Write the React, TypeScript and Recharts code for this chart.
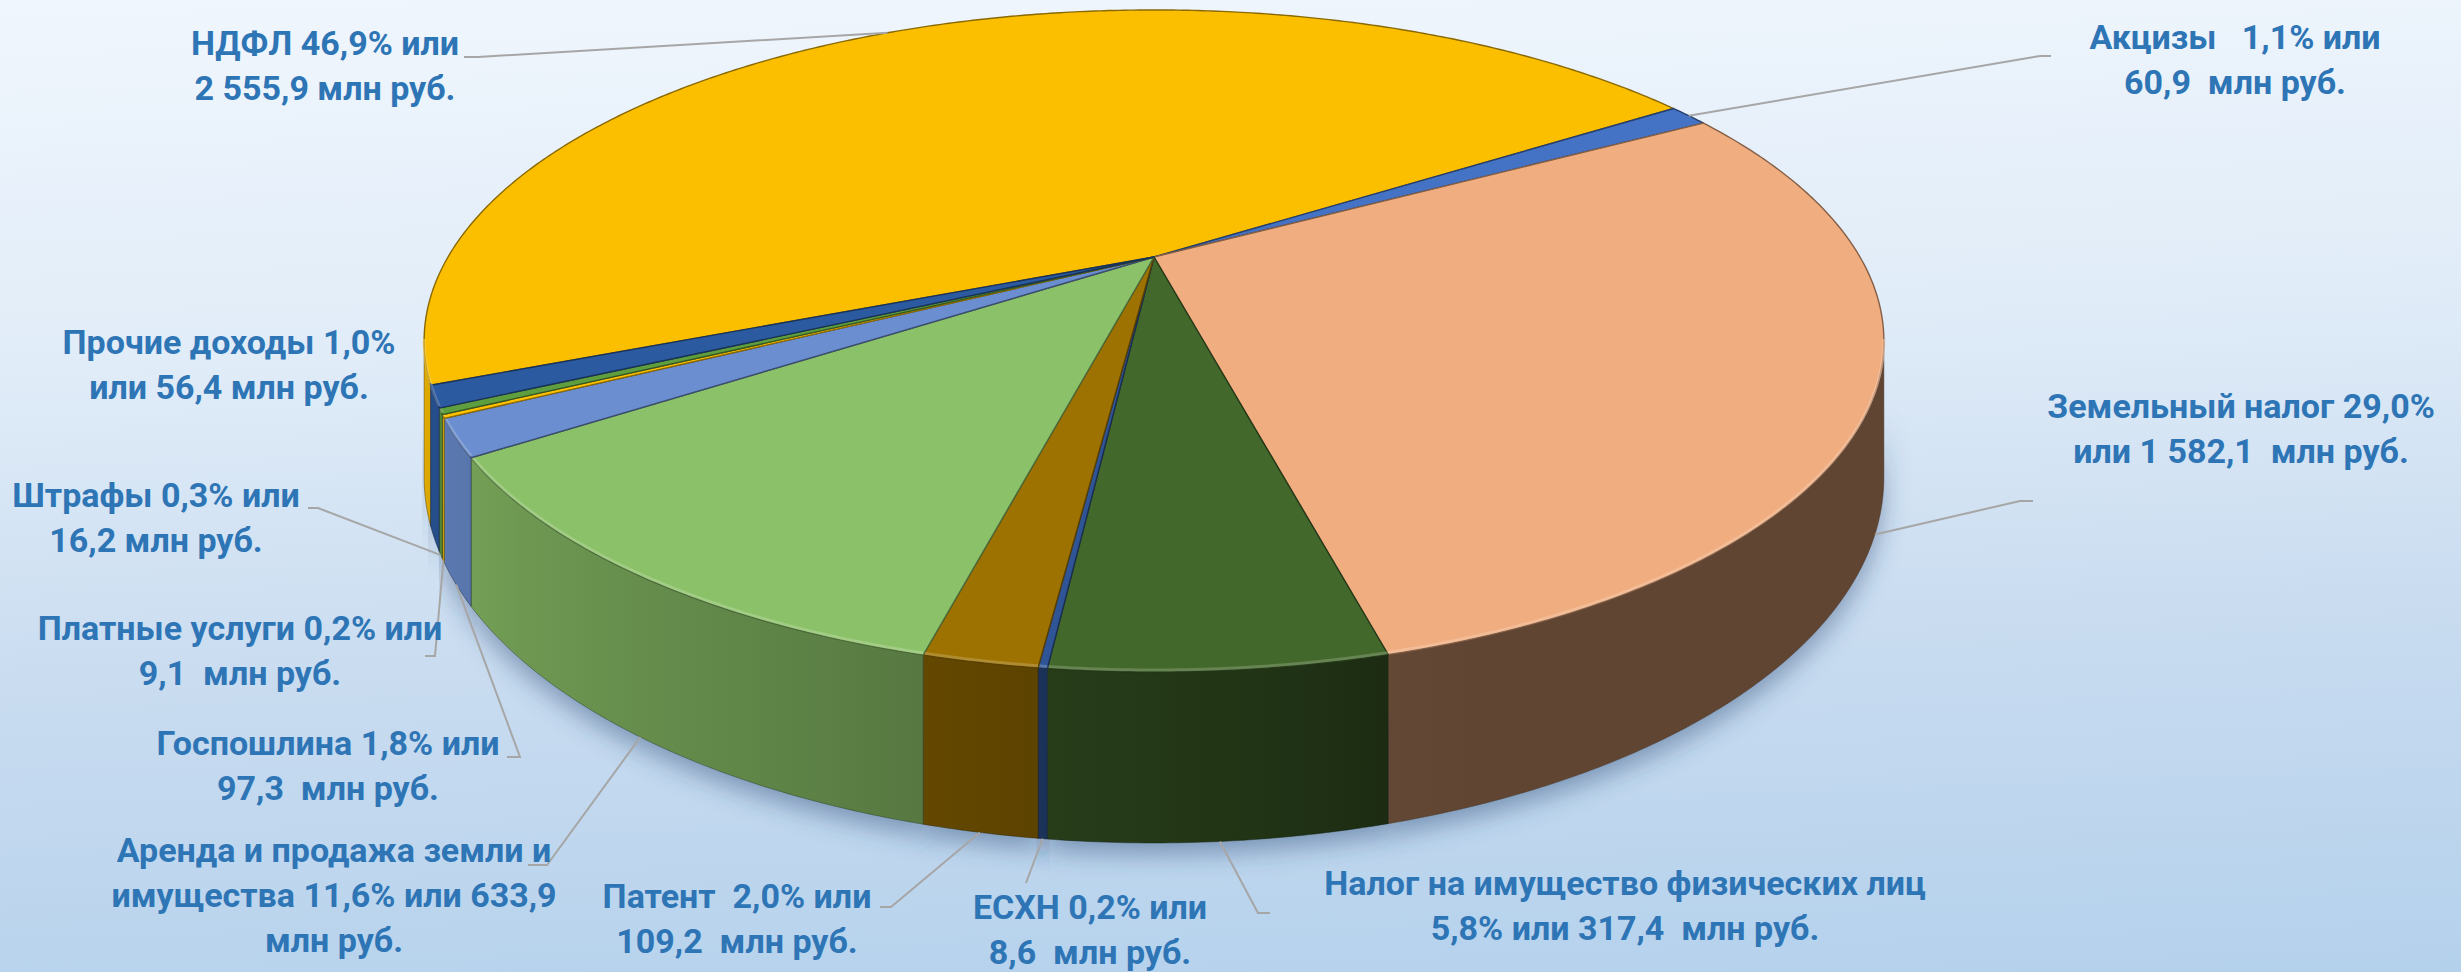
import React from 'react';
import { PieChart, Pie, Cell, Tooltip } from 'recharts';

// ---------- data ----------
const CATEGORIES = [
  'НДФЛ',
  'Акцизы',
  'Земельный налог',
  'Налог на имущество физических лиц',
  'ЕСХН',
  'Патент',
  'Аренда и продажа земли и имущества',
  'Госпошлина',
  'Платные услуги',
  'Штрафы',
  'Прочие доходы',
];
const VALUES = [2555.9, 60.9, 1582.1, 317.4, 8.6, 109.2, 633.9, 97.3, 9.1, 16.2, 56.4];
const PERCENTS = [46.9, 1.1, 29.0, 5.8, 0.2, 2.0, 11.6, 1.8, 0.2, 0.3, 1.0];
const LABEL_TEMPLATES = [
  ['НДФЛ {p}% или', '{v} млн руб.'],
  ['Акцизы   {p}% или', '{v}  млн руб.'],
  ['Земельный налог {p}%', 'или {v}  млн руб.'],
  ['Налог на имущество физических лиц', '{p}% или {v}  млн руб.'],
  ['ЕСХН {p}% или', '{v}  млн руб.'],
  ['Патент  {p}% или', '{v}  млн руб.'],
  ['Аренда и продажа земли и', 'имущества {p}% или {v}', 'млн руб.'],
  ['Госпошлина {p}% или', '{v}  млн руб.'],
  ['Платные услуги {p}% или', '{v}  млн руб.'],
  ['Штрафы {p}% или', '{v} млн руб.'],
  ['Прочие доходы {p}%', 'или {v} млн руб.'],
];
const COLORS = [
  '#FBBF00', '#4472C4', '#F0AD80', '#43682B', '#2F5597', '#9E7200',
  '#8BC168', '#6B8ED0', '#FFC000', '#5E9E3E', '#2C5AA0',
];

// ---------- layout ----------
const W = 2461;
const H = 972;
const PIE_CX = 1154;
const PIE_CY = 257;
const PIE_R = 706;
const TILT = 0.4387; // vertical squash of the disk
const PERSP = 0.2537; // perspective strength
const DEPTH = 0.1807; // thickness relative to radius
const START_ANGLE = 202;
const VIS_LO = (Math.asin(PERSP) * 180) / Math.PI;
const VIS_HI = 180 - VIS_LO;
const FONT_SIZE = 34;
const LINE_H = 45;
const TEXT_COLOR = '#2E75B6';
const LEADER_COLOR = '#A6A6A6';

type Pt = [number, number];
const LABEL_LAYOUT: { x: number; y: number; lead: Pt[] | null }[] = [
  { x: 325, y: 55, lead: [[464, 57], [478, 57]] },
  { x: 2235, y: 49, lead: [[2051, 56], [2040, 56]] },
  { x: 2241, y: 418, lead: [[2033, 501], [2020, 501]] },
  { x: 1625, y: 895, lead: [[1270, 913], [1258, 913]] },
  { x: 1090, y: 919, lead: [[1026, 883], [1026, 883]] },
  { x: 737, y: 908, lead: [[880, 907], [891, 907]] },
  { x: 334, y: 862, lead: [[528, 865], [547, 865]] },
  { x: 328, y: 755, lead: [[507, 757], [520, 757]] },
  { x: 240, y: 640, lead: [[425, 656], [435, 656]] },
  { x: 156, y: 507, lead: [[308, 508], [318, 508]] },
  { x: 229, y: 354, lead: null },
];

// ---------- helpers ----------
function project(cx: number, cy: number, R: number, phiDeg: number, r: number, z: number): Pt {
  const a = (phiDeg * Math.PI) / 180;
  const u = r * Math.cos(a);
  const v = r * Math.sin(a);
  const w = 1 - PERSP * v;
  return [cx + (R * u) / w, cy + (R * TILT * v + R * DEPTH * z) / w];
}

function arcPoints(cx: number, cy: number, R: number, a: number, b: number, z: number, dz = 0): Pt[] {
  const n = Math.max(2, Math.ceil(Math.abs(b - a) / 0.5) + 1);
  const pts: Pt[] = [];
  for (let i = 0; i < n; i++) {
    const phi = a + ((b - a) * i) / (n - 1);
    const p = project(cx, cy, R, phi, 1, z);
    pts.push([p[0], p[1] + dz]);
  }
  return pts;
}

function hexToRgb(hex: string): [number, number, number] {
  const h = hex.replace('#', '');
  return [parseInt(h.slice(0, 2), 16), parseInt(h.slice(2, 4), 16), parseInt(h.slice(4, 6), 16)];
}
function shade(hex: string, f: number): string {
  const [r, g, b] = hexToRgb(hex);
  const c = (x: number) => Math.max(0, Math.min(255, Math.round(x * f)));
  return `rgb(${c(r)},${c(g)},${c(b)})`;
}
function lighten(hex: string, t: number): string {
  const [r, g, b] = hexToRgb(hex);
  const c = (x: number) => Math.round(x + (255 - x) * t);
  return `rgb(${c(r)},${c(g)},${c(b)})`;
}
// lighting of the outer wall: dark on the right, bright on the left
function wallBrightness(phi: number): number {
  let p = ((phi % 360) + 360) % 360;
  if (p > 180) p -= 360;
  if (p <= 75) return 0.4;
  const t = Math.max(0, Math.min(1, (p - 75) / 90));
  return 0.4 + 0.5 * Math.pow(t, 0.7);
}
function visibleRanges(p0: number, p1: number): [number, number][] {
  const out: [number, number][] = [];
  for (const k of [-2, -1, 0, 1, 2]) {
    const lo = Math.max(p0, VIS_LO + 360 * k);
    const hi = Math.min(p1, VIS_HI + 360 * k);
    if (hi > lo) out.push([lo, hi]);
  }
  return out;
}
const toPath = (pts: Pt[]) => pts.map((p, i) => `${i ? 'L' : 'M'}${p[0].toFixed(2)},${p[1].toFixed(2)}`).join(' ');

function fmtNum(x: number): string {
  const [i, d] = x.toFixed(1).split('.');
  return i.replace(/\B(?=(\d{3})+(?!\d))/g, ' ') + ',' + d;
}

// ---------- shapes ----------
function Slice3D(props: any) {
  const { cx, cy, outerRadius, startAngle, endAngle, fill, index } = props;
  const R = outerRadius;
  const p0 = Math.min(-startAngle, -endAngle);
  const p1 = Math.max(-startAngle, -endAngle);
  const topPts: Pt[] = [[cx, cy], ...arcPoints(cx, cy, R, p0, p1, 0)];
  const walls = visibleRanges(p0, p1);
  return (
    <g>
      {walls.map(([a, b], wi) => {
        const top = arcPoints(cx, cy, R, a, b, 0);
        const bot = arcPoints(cx, cy, R, b, a, 1);
        const gid = `wall-${index}-${wi}`;
        const samples = 10;
        const stops: { o: number; c: string }[] = [];
        const xs: number[] = [];
        for (let i = 0; i <= samples; i++) {
          const phi = a + ((b - a) * i) / samples;
          xs.push(project(cx, cy, R, phi, 1, 0)[0]);
        }
        const xmin = Math.min(...xs);
        const xmax = Math.max(...xs);
        for (let i = 0; i <= samples; i++) {
          const phi = a + ((b - a) * i) / samples;
          const o = xmax > xmin ? (xs[i] - xmin) / (xmax - xmin) : 0;
          stops.push({ o, c: shade(fill, wallBrightness(phi)) });
        }
        stops.sort((s1, s2) => s1.o - s2.o);
        return (
          <g key={gid}>
            <defs>
              <linearGradient id={gid} gradientUnits="userSpaceOnUse" x1={xmin} y1={0} x2={xmax + 0.01} y2={0}>
                {stops.map((s, si) => (
                  <stop key={si} offset={s.o} stopColor={s.c} />
                ))}
              </linearGradient>
            </defs>
            <path d={toPath([...top, ...bot]) + ' Z'} fill={`url(#${gid})`} stroke={shade(fill, 0.3)} strokeWidth={0.8} strokeOpacity={0.6} />
          </g>
        );
      })}
      <path d={toPath(topPts) + ' Z'} fill={fill} stroke={shade(fill, 0.55)} strokeWidth={1.4} strokeLinejoin="round" />
      {walls.map(([a, b], wi) => (
        <path key={`hl-${wi}`} d={toPath(arcPoints(cx, cy, R, a, b, 0, -2))} fill="none" stroke={lighten(fill, 0.35)} strokeWidth={3} strokeOpacity={0.55} />
      ))}
    </g>
  );
}

function Shadow3D(props: any) {
  const { cx, cy, outerRadius, startAngle, endAngle } = props;
  const R = outerRadius;
  const p0 = Math.min(-startAngle, -endAngle);
  const p1 = Math.max(-startAngle, -endAngle);
  const walls = visibleRanges(p0, p1);
  return (
    <g>
      <defs>
        <filter id="pieShadow" x="-20%" y="-20%" width="140%" height="140%">
          <feGaussianBlur stdDeviation="12" />
        </filter>
      </defs>
      {walls.map(([a, b], wi) => {
        const top = arcPoints(cx, cy, R, a, b, 0.5);
        const bot = arcPoints(cx, cy, R, b, a, 1, 12);
        return <path key={wi} d={toPath([...top, ...bot]) + ' Z'} fill="#2a4a78" fillOpacity={0.45} filter="url(#pieShadow)" />;
      })}
    </g>
  );
}

function renderLabel(props: any) {
  const { cx, cy, outerRadius, index } = props;
  const mid = props.midAngle != null ? props.midAngle : (props.startAngle + props.endAngle) / 2;
  const lay = LABEL_LAYOUT[index];
  const lines = LABEL_TEMPLATES[index].map((s) =>
    s.replace('{p}', PERCENTS[index].toFixed(1).replace('.', ',')).replace('{v}', fmtNum(VALUES[index])),
  );
  const phi = -mid;
  const front = Math.sin((phi * Math.PI) / 180) > 0;
  const target = project(cx, cy, outerRadius, phi, 1, front ? 1 : 0);
  return (
    <g key={`lbl-${index}`}>
      {lay.lead && (
        <polyline
          points={[...lay.lead, target].map((p) => `${p[0]},${p[1]}`).join(' ')}
          fill="none"
          stroke={LEADER_COLOR}
          strokeWidth={2}
        />
      )}
      <text
        textAnchor="middle"
        fill={TEXT_COLOR}
        fontSize={FONT_SIZE}
        fontWeight={700}
        fontFamily="Roboto, 'Noto Sans', sans-serif"
        style={{ whiteSpace: 'pre' }}
      >
        {lines.map((l, i) => (
          <tspan key={i} x={lay.x} y={lay.y + i * LINE_H}>
            {l}
          </tspan>
        ))}
      </text>
    </g>
  );
}

const DATA = CATEGORIES.map((name, i) => ({ name, value: VALUES[i] }));

export default function App() {
  return (
    <div
      style={{
        position: 'absolute',
        left: 0,
        top: 0,
        width: W,
        height: H,
        overflow: 'hidden',
        background: 'linear-gradient(178deg, #f0f6fd 0%, #e0ecf8 35%, #c9dcf0 65%, #b4d1ec 100%)',
      }}
    >
      <PieChart width={W} height={H} margin={{ top: 0, right: 0, bottom: 0, left: 0 }}>
        <Pie
          data={DATA}
          dataKey="value"
          nameKey="name"
          cx={PIE_CX}
          cy={PIE_CY}
          outerRadius={PIE_R}
          startAngle={START_ANGLE}
          endAngle={START_ANGLE - 360}
          isAnimationActive={false}
          shape={Shadow3D}
          activeShape={Shadow3D}
          inactiveShape={Shadow3D}
          label={false}
          labelLine={false}
          legendType="none"
        >
          {DATA.map((d, i) => (
            <Cell key={d.name} fill={COLORS[i]} />
          ))}
        </Pie>
        <Pie
          data={DATA}
          dataKey="value"
          nameKey="name"
          cx={PIE_CX}
          cy={PIE_CY}
          outerRadius={PIE_R}
          startAngle={START_ANGLE}
          endAngle={START_ANGLE - 360}
          isAnimationActive={false}
          shape={Slice3D}
          activeShape={Slice3D}
          inactiveShape={Slice3D}
          label={renderLabel}
          labelLine={false}
        >
          {DATA.map((d, i) => (
            <Cell key={d.name} fill={COLORS[i]} />
          ))}
        </Pie>
        <Tooltip defaultIndex={0} content={() => null} cursor={false} isAnimationActive={false} />
      </PieChart>
    </div>
  );
}
